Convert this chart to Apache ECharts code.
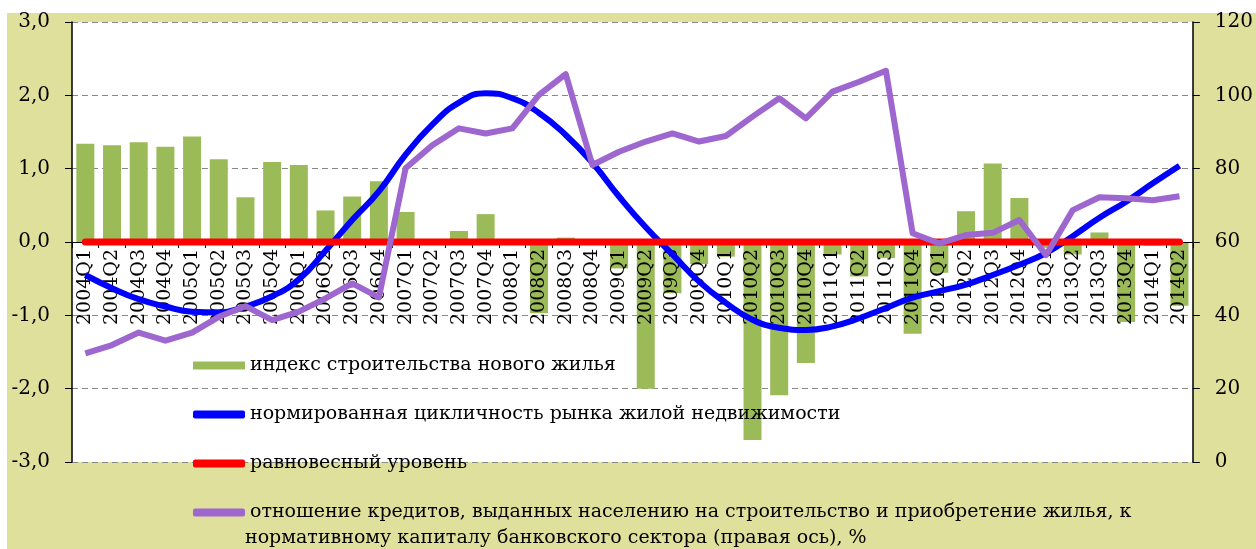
<!DOCTYPE html>
<html>
<head>
<meta charset="utf-8">
<style>
html, body { margin: 0; padding: 0; background: #fff; }
#bg { position: absolute; left: 7px; top: 13px; width: 1249px; height: 536px; background: #e0e09d; }
#chart { position: absolute; left: 0; top: 0; width: 1256px; height: 549px; }
</style>
<script src="https://cdn.jsdelivr.net/npm/echarts@6/dist/echarts.min.js"></script>
</head>
<body>
<div id="bg"></div>
<div id="chart"></div>
<script>
// quarters on the x axis
const quarters = [
  "2004Q1", "2004Q2", "2004Q3", "2004Q4",
  "2005Q1", "2005Q2", "2005Q3", "2005Q4",
  "2006Q1", "2006Q2", "2006Q3", "2006Q4",
  "2007Q1", "2007Q2", "2007Q3", "2007Q4",
  "2008Q1", "2008Q2", "2008Q3", "2008Q4",
  "2009Q1", "2009Q2", "2009Q3", "2009Q4",
  "2010Q1", "2010Q2", "2010Q3", "2010Q4",
  "2011Q1", "2011Q2", "2011Q3", "2011Q4",
  "2012Q1", "2012Q2", "2012Q3", "2012Q4",
  "2013Q1", "2013Q2", "2013Q3", "2013Q4",
  "2014Q1", "2014Q2"
];

// индекс строительства нового жилья (left axis)
const buildIndex = [
  1.34, 1.32, 1.36, 1.30,
  1.44, 1.13, 0.61, 1.09,
  1.05, 0.43, 0.62, 0.83,
  0.41, 0.00, 0.15, 0.38,
  0.00, -0.97, 0.06, 0.00,
  -0.36, -2.00, -0.70, -0.30,
  -0.20, -2.70, -2.09, -1.65,
  -0.17, -0.47, -0.22, -1.25,
  -0.42, 0.42, 1.07, 0.60,
  -0.08, -0.17, 0.13, -1.09,
  -0.05, -0.87
];

// нормированная цикличность рынка (left axis)
const cyclicity = [
  -0.45, -0.63, -0.78, -0.88,
  -0.95, -0.96, -0.88, -0.74,
  -0.51, -0.12, 0.30, 0.69,
  1.19, 1.60, 1.90, 2.03,
  1.96, 1.76, 1.46, 1.08,
  0.62, 0.20, -0.17, -0.54,
  -0.83, -1.06, -1.17, -1.20,
  -1.15, -1.04, -0.90, -0.76,
  -0.67, -0.58, -0.45, -0.31,
  -0.15, 0.08, 0.33, 0.55,
  0.80, 1.04
];

// равновесный уровень
const equilibrium = [
  0, 0, 0, 0, 0, 0, 0, 0, 0, 0, 0, 0, 0, 0,
  0, 0, 0, 0, 0, 0, 0, 0, 0, 0, 0, 0, 0, 0,
  0, 0, 0, 0, 0, 0, 0, 0, 0, 0, 0, 0, 0, 0
];

// кредиты / нормативный капитал, % (right axis)
const loansRatio = [
  29.6, 31.9, 35.3, 33.1,
  35.3, 39.6, 42.5, 38.7,
  41.0, 44.6, 48.7, 44.9,
  80.1, 86.4, 91.0, 89.6,
  91.0, 100.1, 105.8, 81.0,
  84.6, 87.4, 89.6, 87.4,
  88.9, 94.2, 99.2, 93.7,
  101.0, 103.7, 106.7, 62.4,
  59.6, 61.9, 62.5, 66.0,
  56.4, 68.7, 72.2, 71.9,
  71.4, 72.5
];

const names = [
  "индекс строительства нового жилья",
  "нормированная цикличность рынка жилой недвижимости",
  "равновесный уровень",
  "отношение кредитов, выданных населению на строительство и приобретение жилья, к"
];
const secondLine = "нормативному капиталу банковского сектора (правая ось), %";

const FONT = "DejaVu Serif";

const chart = echarts.init(document.getElementById("chart"), null, { renderer: "canvas" });
chart.setOption({
  animation: false,
  textStyle: { fontFamily: FONT, color: "#000" },
  grid: {
    left: 72, top: 22, width: 1121, height: 440,
    show: true, backgroundColor: "#fff", borderWidth: 0
  },
  legend: {
    orient: "vertical",
    left: 188, top: 351,
    itemWidth: 52, itemHeight: 8,
    itemGap: 30,
    z: 10,
    textStyle: { fontFamily: FONT, fontSize: 19, color: "#000" },
    data: [
      { name: names[0], icon: "rect" },
      { name: names[1], icon: "roundRect" },
      { name: names[2], icon: "roundRect" },
      { name: names[3], icon: "roundRect" }
    ]
  },
  graphic: [{
    type: "text", left: 245, top: 529, z: 10,
    style: { text: secondLine, fontFamily: FONT, fontSize: 19, fill: "#000" }
  }],
  xAxis: {
    type: "category",
    data: quarters,
    offset: -220,
    z: 2,
    axisLine: { onZero: false, lineStyle: { color: "#000", width: 1 } },
    axisTick: { show: true, length: 6, lineStyle: { color: "#000" } },
    axisLabel: { interval: 0, rotate: 90, margin: 7, fontSize: 19, fontFamily: FONT, color: "#000" }
  },
  yAxis: [{
    type: "value", min: -3, max: 3, interval: 1,
    axisLine: { show: true, lineStyle: { color: "#000", width: 1.5 } },
    axisTick: { show: true, length: 7, lineStyle: { color: "#000" } },
    axisLabel: {
      margin: 22, fontSize: 20, fontFamily: FONT, color: "#000",
      formatter: v => v.toFixed(1).replace(".", ",")
    },
    splitLine: { show: true, lineStyle: { color: "#888", type: [6, 4], width: 1 } }
  }, {
    type: "value", min: 0, max: 120, interval: 20,
    axisLine: { show: true, lineStyle: { color: "#000", width: 1.5 } },
    axisTick: { show: true, length: 7, lineStyle: { color: "#000" } },
    axisLabel: { margin: 22, fontSize: 20, fontFamily: FONT, color: "#000" },
    splitLine: { show: false }
  }],
  series: [{
    name: names[0], type: "bar", data: buildIndex, yAxisIndex: 0,
    barWidth: 18, z: 1,
    itemStyle: { color: "#9bbb59" }
  }, {
    name: names[1], type: "line", data: cyclicity, yAxisIndex: 0,
    smooth: 0.5, showSymbol: false, z: 3,
    lineStyle: { color: "#0000ff", width: 6 },
    itemStyle: { color: "#0000ff" }
  }, {
    name: names[2], type: "line", data: equilibrium, yAxisIndex: 0,
    showSymbol: false, z: 3,
    lineStyle: { color: "#ff0000", width: 7, cap: "round" },
    itemStyle: { color: "#ff0000" }
  }, {
    name: names[3], type: "line", data: loansRatio, yAxisIndex: 1,
    showSymbol: false, z: 3,
    lineStyle: { color: "#9e66cf", width: 6, join: "round" },
    itemStyle: { color: "#9e66cf" }
  }]
});
</script>
</body>
</html>
